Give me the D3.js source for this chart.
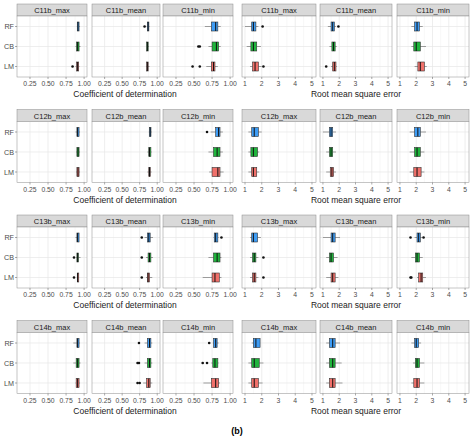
<!DOCTYPE html><html><head><meta charset="utf-8"><script src="https://cdn.jsdelivr.net/npm/d3@7"></script>
<style>body{margin:0;background:#fff}text{font-family:"Liberation Sans",Arial,sans-serif}</style></head><body><svg id="c" width="474" height="439"></svg><script>
const models=["RF","CB","LM"];
const colors=["#3d9cf5","#1fb53c","#f0706a"];
const rowNames=["C11b","C12b","C13b","C14b"];
const panelSuffix=["max","mean","min"];
const r2Ticks=[0.25,0.5,0.75,1.0];
const rmseTicks=[1,2,3,4,5];
// each box: [lowerWhisker,q1,median,q3,upperWhisker,...outliers]; order RF,CB,LM
const r2C11b=[
 [[0.90,0.905,0.915,0.93,0.94],[0.88,0.895,0.91,0.93,0.95],[0.88,0.895,0.91,0.925,0.935,0.84]],
 [[0.85,0.86,0.87,0.88,0.89,0.82],[0.85,0.85,0.86,0.87,0.88],[0.84,0.85,0.86,0.87,0.89]],
 [[0.65,0.74,0.80,0.83,0.87],[0.70,0.75,0.81,0.84,0.87,0.56,0.58],[0.67,0.74,0.77,0.79,0.83,0.48,0.58]]];
const rmseC11b=[
 [[1.0,1.4,1.5,1.65,1.8,2.05],[1.1,1.35,1.5,1.7,1.95],[1.3,1.45,1.6,1.8,2.0,2.1]],
 [[1.3,1.5,1.6,1.7,1.8,1.95],[1.4,1.55,1.65,1.75,1.85],[1.5,1.6,1.7,1.8,1.85,1.2]],
 [[1.7,1.9,2.05,2.2,2.4],[1.7,1.85,2.0,2.25,2.6],[1.9,2.1,2.25,2.5,2.65]]];
const r2C12b=[
 [[0.88,0.90,0.91,0.93,0.94],[0.89,0.90,0.915,0.93,0.94],[0.89,0.90,0.915,0.93,0.94]],
 [[0.88,0.89,0.90,0.91,0.92],[0.86,0.88,0.89,0.91,0.92],[0.86,0.88,0.89,0.90,0.92]],
 [[0.73,0.80,0.84,0.86,0.90,0.68],[0.70,0.77,0.82,0.86,0.90],[0.71,0.75,0.83,0.86,0.91]]];
const rmseC12b=[
 [[1.2,1.4,1.55,1.8,2.0],[1.2,1.35,1.5,1.75,1.85],[1.2,1.4,1.5,1.7,1.85]],
 [[1.0,1.4,1.5,1.6,1.8],[1.2,1.4,1.5,1.6,1.8],[1.2,1.45,1.55,1.65,1.8]],
 [[1.6,1.9,2.1,2.25,2.6],[1.6,1.9,2.05,2.25,2.5],[1.6,1.85,2.05,2.3,2.5]]];
const r2C13b=[
 [[0.88,0.90,0.91,0.93,0.93],[0.89,0.90,0.91,0.92,0.95,0.86],[0.90,0.905,0.91,0.92,0.93,0.86]],
 [[0.82,0.86,0.88,0.90,0.94,0.78],[0.84,0.87,0.89,0.91,0.94,0.78],[0.84,0.86,0.87,0.89,0.93,0.78]],
 [[0.77,0.78,0.80,0.83,0.84,0.88],[0.70,0.77,0.82,0.86,0.88],[0.62,0.75,0.79,0.85,0.88]]];
const rmseC13b=[
 [[1.3,1.4,1.5,1.75,1.95],[1.3,1.45,1.55,1.65,1.8,2.1],[1.3,1.45,1.55,1.65,1.8,2.1]],
 [[1.0,1.5,1.6,1.75,2.05],[1.2,1.4,1.5,1.65,1.9],[1.2,1.5,1.6,1.75,1.95]],
 [[1.9,2.05,2.15,2.25,2.35,1.65,2.45],[1.7,1.95,2.05,2.2,2.4],[2.05,2.15,2.3,2.4,2.6,1.65,1.7]]];
const r2C14b=[
 [[0.85,0.90,0.91,0.93,0.94],[0.85,0.89,0.91,0.93,0.95],[0.88,0.89,0.91,0.93,0.94]],
 [[0.82,0.86,0.89,0.91,0.93,0.74],[0.82,0.86,0.89,0.91,0.93,0.72,0.74],[0.80,0.85,0.88,0.90,0.93,0.72,0.75]],
 [[0.76,0.77,0.80,0.82,0.84,0.71],[0.74,0.76,0.79,0.83,0.84,0.62,0.68],[0.63,0.74,0.80,0.84,0.86]]];
const rmseC14b=[
 [[1.4,1.5,1.65,1.9,1.9],[1.2,1.4,1.55,1.85,2.1],[1.2,1.4,1.55,1.8,2.05]],
 [[1.2,1.4,1.6,1.75,2.05],[1.2,1.4,1.6,1.75,2.15],[1.2,1.4,1.6,1.75,2.2]],
 [[1.7,1.9,2.0,2.15,2.3],[1.8,1.95,2.05,2.2,2.5],[1.7,1.85,2.05,2.2,2.5]]];
const r2Data=[r2C11b,r2C12b,r2C13b,r2C14b];
const rmseData=[rmseC11b,rmseC12b,rmseC13b,rmseC14b];

const svg=d3.select("#c");
const leftX=[[17,87],[92,160],[163,233]];
const rightX=[[242,316],[320,392],[397,469]];
const rowH=105.5, row0=4, stripH=12, plotH=61;
function panel(g,x0,x1,yTop,title,data,domain,ticks,fmt){
  const x=d3.scaleLinear().domain(domain).range([x0,x1]);
  const y=d3.scaleBand().domain(models).range([yTop+stripH,yTop+stripH+plotH]).padding(0.05);
  g.append("rect").attr("x",x0).attr("y",yTop).attr("width",x1-x0).attr("height",stripH).attr("fill","#d9d9d9").attr("stroke","#8c8c8c").attr("stroke-width",0.5);
  g.append("text").attr("x",(x0+x1)/2).attr("y",yTop+9).attr("text-anchor","middle").attr("font-size",7.5).attr("fill","#1a1a1a").text(title);
  const pt=yTop+stripH;
  g.append("rect").attr("x",x0).attr("y",pt).attr("width",x1-x0).attr("height",plotH).attr("fill","#fff");
  const minor=[];for(let i=0;i<ticks.length-1;i++)minor.push((ticks[i]+ticks[i+1])/2);
  minor.forEach(t=>g.append("line").attr("x1",x(t)).attr("x2",x(t)).attr("y1",pt).attr("y2",pt+plotH).attr("stroke","#f0f0f0").attr("stroke-width",0.5));
  ticks.forEach(t=>g.append("line").attr("x1",x(t)).attr("x2",x(t)).attr("y1",pt).attr("y2",pt+plotH).attr("stroke","#e6e6e6").attr("stroke-width",0.7));
  models.forEach(m=>g.append("line").attr("x1",x0).attr("x2",x1).attr("y1",y(m)+y.bandwidth()/2).attr("y2",y(m)+y.bandwidth()/2).attr("stroke","#e6e6e6").attr("stroke-width",0.7));
  g.append("rect").attr("x",x0).attr("y",pt).attr("width",x1-x0).attr("height",plotH).attr("fill","none").attr("stroke","#8c8c8c").attr("stroke-width",0.5);
  data.forEach((b,i)=>{
    const cy=y(models[i])+y.bandwidth()/2, h=9;
    g.append("line").attr("x1",x(b[0])).attr("x2",x(b[1])).attr("y1",cy).attr("y2",cy).attr("stroke","#777").attr("stroke-width",0.7);
    g.append("line").attr("x1",x(b[3])).attr("x2",x(b[4])).attr("y1",cy).attr("y2",cy).attr("stroke","#777").attr("stroke-width",0.7);
    g.append("rect").attr("x",x(b[1])).attr("y",cy-h/2).attr("width",Math.max(1.5,x(b[3])-x(b[1]))).attr("height",h).attr("fill",colors[i]).attr("stroke","#333").attr("stroke-width",0.6);
    g.append("line").attr("x1",x(b[2])).attr("x2",x(b[2])).attr("y1",cy-h/2).attr("y2",cy+h/2).attr("stroke","#111").attr("stroke-width",1);
    b.slice(5).forEach(o=>g.append("circle").attr("cx",x(o)).attr("cy",cy).attr("r",1.3).attr("fill","#111"));
  });
  ticks.forEach(t=>{
    g.append("line").attr("x1",x(t)).attr("x2",x(t)).attr("y1",pt+plotH).attr("y2",pt+plotH+2).attr("stroke","#555").attr("stroke-width",0.5);
    g.append("text").attr("x",x(t)).attr("y",pt+plotH+9).attr("text-anchor","middle").attr("font-size",6.8).attr("fill","#4d4d4d").text(fmt(t));
  });
  return y;
}
rowNames.forEach((rn,r)=>{
  const yTop=row0+r*rowH;
  const g=svg.append("g");
  let yb;
  panelSuffix.forEach((s,p)=>{
    yb=panel(g,leftX[p][0],leftX[p][1],yTop,rn+"_"+s,r2Data[r][p],[0.07,1.04],r2Ticks,d3.format(".2f"));
    panel(g,rightX[p][0],rightX[p][1],yTop,rn+"_"+s,rmseData[r][p],[0.82,5.24],rmseTicks,d3.format("d"));
  });
  models.forEach(m=>{
    g.append("text").attr("x",14).attr("y",yb(m)+yb.bandwidth()/2+2.5).attr("text-anchor","end").attr("font-size",7.2).attr("fill","#4d4d4d").text(m);
    g.append("line").attr("x1",15).attr("x2",17).attr("y1",yb(m)+yb.bandwidth()/2).attr("y2",yb(m)+yb.bandwidth()/2).attr("stroke","#555").attr("stroke-width",0.5);
  });
  g.append("text").attr("x",125).attr("y",yTop+stripH+plotH+20).attr("text-anchor","middle").attr("font-size",8.5).attr("fill","#222").text("Coefficient of determination");
  g.append("text").attr("x",356).attr("y",yTop+stripH+plotH+20).attr("text-anchor","middle").attr("font-size",8.5).attr("fill","#222").text("Root mean square error");
});
svg.append("text").attr("x",237).attr("y",434).attr("text-anchor","middle").attr("font-size",9).attr("font-weight","bold").attr("font-family","Liberation Serif,serif").text("(b)");
</script></body></html>
